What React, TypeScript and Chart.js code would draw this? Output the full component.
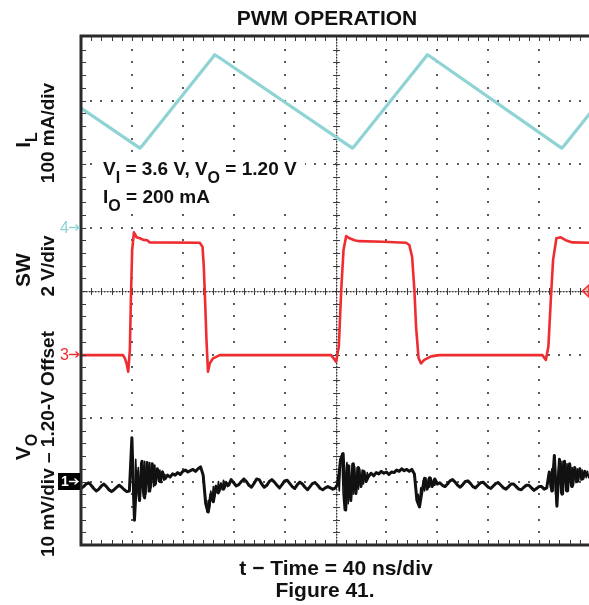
import React, { useEffect, useRef } from "react";
import { Chart, registerables } from "chart.js";

Chart.register(...registerables);

// ---------- scope settings ----------
const TIME_PER_DIV_NS = 40;
const X_DIVS = 10;
const Y_DIVS = 8;

const IL_MA_PER_DIV = 100;
const IL_REF_DIV = 5; // channel 4 ground marker
const SW_V_PER_DIV = 2;
const SW_REF_DIV = 3; // channel 3 ground marker
const VO_MV_PER_DIV = 10;
const VO_REF_DIV = 1; // channel 1 ground marker

// ---------- inductor current I_L (mA) ----------
const IL_T_NS = [0, 44.8, 46.3, 47.8, 103.6, 105.1, 106.8, 211.8, 213.3, 214.8, 270.7, 272.2, 273.9, 376.3, 377.8, 379.3, 400];
const IL_MA = [188, 127, 125, 128, 268, 272, 270, 127, 125, 128, 268, 272, 270, 127, 125, 128, 180];

// ---------- switch node SW (V) ----------
const SW_T_NS = [
  0, 33.0, 34.5, 35.8, 37.1, 38.4, 39.2, 40.2, 41.6, 43.7, 46.3, 48.9, 52.0, 54.1, 93.3, 95.5, 96.5, 97.5, 98.6, 99.8, 101.2, 103.8, 109.0,
  196.6, 200.5, 202.6, 204.5, 206.3, 208.4, 211.0, 214.9, 218.8, 237.1, 255.5, 258.0, 260.2, 262.0, 263.3, 265.3, 267.2, 269.8, 275.1, 281.6,
  362.6, 365.3, 367.3, 369.2, 371.0, 373.6, 377.0, 380.9, 386.1, 400,
];
const SW_V = [
  -0.02, -0.02, -0.12, -0.28, -0.54, 0.14, 1.72, 3.29, 3.85, 3.69, 3.66, 3.61, 3.6, 3.53, 3.52, 3.39, 2.77, 1.72, 0.46, -0.54, -0.28, -0.12, -0.02,
  -0.02, -0.23, 0.25, 2.03, 3.29, 3.73, 3.66, 3.6, 3.57, 3.55, 3.52, 3.45, 3.08, 2.03, 0.88, -0.12, -0.28, -0.17, -0.06, -0.02,
  -0.02, -0.17, 0.25, 1.72, 2.98, 3.66, 3.69, 3.6, 3.53, 3.52,
];

// ---------- output voltage V_O - 1.20 V (mV), sampled every 2 ns ----------
const VO_STEP_NS = 2;
const VO_MV = [
  -1.1, -0.8, -0.4, -0.2, -0.6, -1.1, -1.5, -1.2, -0.7, -0.4, // 0-18
  -0.8, -1.3, -1.6, -1.3, -0.9, -0.6, -0.9, -1.3, -1.6, -1.5, // 20-38
  6.9, -6.1, 1.5, -3.0, 3.2, -2.6, 3.0, -1.5, 2.8, -0.5, // 40-58
  2.0, 0.0, 1.5, 0.4, 1.0, 0.7, 1.2, 1.0, 1.4, 1.1, // 60-78
  1.6, 1.8, 1.5, 1.7, 1.9, 1.6, 2.0, 2.3, 1.0, -3.5, // 80-98
  -4.8, -2.0, -3.2, -0.8, -1.8, -0.5, -1.2, -0.2, -0.6, 0.3, // 100-118
  -0.2, -0.7, -0.5, 0.0, 0.4, 0.0, -0.6, -0.9, -0.3, 0.4, // 120-138
  0.3, -0.4, -0.9, -0.6, 0.0, 0.3, -0.1, -0.6, -1.0, -0.5, // 140-158
  0.1, 0.2, -0.3, -0.8, -1.1, -0.5, -0.1, -0.4, -0.9, -1.3, // 160-178
  -0.8, -0.3, -0.2, -0.6, -1.1, -1.3, -1.0, -0.8, -1.0, -1.2, // 180-198
  -1.0, -0.3, 3.5, 4.4, -4.5, 2.5, -3.0, 2.8, -1.9, 2.2, // 200-218
  -0.8, 1.6, 0.0, 0.8, 1.3, 0.9, 1.4, 1.2, 1.6, 1.3, // 220-238
  1.5, 1.1, 1.5, 1.4, 1.8, 1.6, 2.0, 1.7, 1.9, 1.6, // 240-258
  1.9, 1.2, -3.0, -4.0, -1.5, 0.5, -1.2, 0.6, -0.8, 0.4, // 260-278
  -0.4, -0.2, -0.6, -0.8, -0.4, 0.1, 0.3, -0.1, -0.6, -0.9, // 280-298
  -0.5, 0.0, 0.1, -0.3, -0.8, -1.0, -0.6, -0.2, -0.1, -0.5, // 300-318
  -0.9, -1.1, -0.7, -0.3, -0.2, -0.6, -1.0, -1.2, -0.8, -0.4, // 320-338
  -0.4, -0.8, -1.2, -1.3, -0.9, -0.6, -0.6, -1.0, -1.4, -1.1, // 340-358
  -0.8, -0.8, -1.2, -1.0, 1.5, -1.5, 4.1, -3.9, 3.5, -2.0, // 360-378
  3.2, -1.5, 2.8, -0.8, 2.2, 0.0, 2.0, 0.4, 1.6, 0.8, // 380-398
];

// ---------- V_O switching bursts, sampled every 1 ns ----------
const VO_BURST_STEP_NS = 1;
const VO_BURST_START_NS = [38, 96, 200, 262, 366];
const VO_BURST_MV = [
  [-1.5, 1.0, 6.9, -2.0, -6.1, 3.5, -1.0, 2.2, -3.0, 3.0, -0.5, -2.4, 3.2, -2.0, 2.6, -1.6, 3.0, -1.0, 2.4, -0.8, 2.6, -0.4, 2.0, 0.0, 1.8, -0.2, 1.6, 0.2, 1.2],
  [1.0, -1.0, -3.5, -4.8, -3.0, -4.2, -1.5, -3.0, -0.8, -2.4, -0.6, -1.8, 0.0, -1.5, -0.2, -1.3, 0.2, -1.0, 0.0, -0.8, -0.4],
  [-1.0, -0.6, 1.0, -1.5, 3.5, 4.4, -2.0, -4.5, 1.0, 3.0, -3.5, 2.5, -2.8, 2.8, -2.0, 2.4, -1.9, 2.2, -1.2, 2.0, -0.8, 1.8, -0.4, 1.6, 0.0, 1.4, 0.6],
  [1.2, -1.0, -3.0, -2.0, -4.0, -1.0, -2.0, 0.2, -1.5, 0.6, -1.2, 0.5, -0.9, 0.6, -0.8, 0.3, -0.6, 0.2, -0.4],
  [-1.0, 0.2, 1.5, -1.0, 2.0, -1.5, 4.1, -2.0, -3.9, 1.5, 3.5, -1.8, 3.2, -2.0, 3.2, -1.5, 2.8, -1.5, 2.8, -0.8, 2.2, -0.6, 2.2, -0.2, 2.0, 0.0, 2.0, 0.2, 1.8, 0.4, 1.6, 0.6, 1.6, 0.6, 1.2],
];

// ---------- texts ----------
const TITLE = "PWM OPERATION";
const X_TITLE = "t \u2212 Time = 40 ns/div";
const CAPTION = "Figure 41.";

const IL_COLOR = "#8fd3d5";
const SW_COLOR = "#ee2d31";
const VO_COLOR = "#111111";

const FONT = '"Liberation Sans", Arial, Helvetica, sans-serif';

type Part = { t: string; sub?: boolean };

function richWidth(ctx: CanvasRenderingContext2D, parts: Part[], size: number, subSize: number) {
  let w = 0;
  for (const p of parts) {
    ctx.font = `bold ${p.sub ? subSize : size}px ${FONT}`;
    w += ctx.measureText(p.t).width;
  }
  return w;
}

function drawRich(
  ctx: CanvasRenderingContext2D,
  parts: Part[],
  x: number,
  y: number,
  size: number,
  subSize: number,
  subDrop: number,
  align: "left" | "center"
) {
  const w = richWidth(ctx, parts, size, subSize);
  let cx = align === "center" ? x - w / 2 : x;
  ctx.textAlign = "left";
  ctx.textBaseline = "alphabetic";
  for (const p of parts) {
    ctx.font = `bold ${p.sub ? subSize : size}px ${FONT}`;
    ctx.fillText(p.t, cx, p.sub ? y + subDrop : y);
    cx += ctx.measureText(p.t).width;
  }
}

function drawRotated(ctx: CanvasRenderingContext2D, parts: Part[], x: number, y: number, size: number) {
  ctx.save();
  ctx.translate(x, y);
  ctx.rotate(-Math.PI / 2);
  drawRich(ctx, parts, 0, 0, size, Math.round(size * 0.76), 7, "center");
  ctx.restore();
}

function drawArrow(ctx: CanvasRenderingContext2D, x0: number, x1: number, y: number, color: string) {
  ctx.strokeStyle = color;
  ctx.lineWidth = 1.3;
  ctx.beginPath();
  ctx.moveTo(x0, y);
  ctx.lineTo(x1, y);
  ctx.moveTo(x1 - 3.5, y - 3);
  ctx.lineTo(x1, y);
  ctx.lineTo(x1 - 3.5, y + 3);
  ctx.stroke();
}

const scopePlugin = {
  id: "scopeGraticule",
  beforeDatasetsDraw(chart: any) {
    const { ctx, chartArea: a, scales } = chart;
    const xs = scales.x;
    const yv = scales.yVO;
    const xAt = (d: number) => xs.getPixelForValue(d * TIME_PER_DIV_NS);
    const yAt = (d: number) => yv.getPixelForValue((d - VO_REF_DIV) * VO_MV_PER_DIV);
    ctx.save();
    // dotted graticule
    ctx.fillStyle = "#5a5a5a";
    for (let k = 1; k < X_DIVS; k++) {
      if (k === X_DIVS / 2) continue;
      const x = Math.round(xAt(k));
      for (let j = 1; j < Y_DIVS * 5; j++) {
        const y = Math.round(yAt(j / 5));
        ctx.fillRect(x - 1, y - 1, 2, 2);
      }
    }
    for (let k = 1; k < Y_DIVS; k++) {
      if (k === Y_DIVS / 2) continue;
      const y = Math.round(yAt(k));
      for (let j = 1; j < X_DIVS * 5; j++) {
        const x = Math.round(xAt(j / 5));
        ctx.fillRect(x - 1, y - 1, 2, 2);
      }
    }
    // center crosshair
    const cx = Math.round(xAt(X_DIVS / 2));
    const cy = Math.round(yAt(Y_DIVS / 2));
    ctx.strokeStyle = "#b0b0b0";
    ctx.lineWidth = 1;
    ctx.beginPath();
    ctx.moveTo(a.left, cy + 0.5);
    ctx.lineTo(a.right, cy + 0.5);
    ctx.moveTo(cx + 0.5, a.top);
    ctx.lineTo(cx + 0.5, a.bottom);
    ctx.stroke();
    ctx.fillStyle = "#3a3a3a";
    for (let x = a.left + 2; x < a.right; x += 3) ctx.fillRect(x, cy, 1.4, 1.4);
    for (let y = a.top + 2; y < a.bottom; y += 3) ctx.fillRect(cx, y, 1.4, 1.4);
    ctx.strokeStyle = "#3a3a3a";
    ctx.beginPath();
    for (let j = 1; j < X_DIVS * 5; j++) {
      const x = Math.round(xAt(j / 5)) + 0.5;
      ctx.moveTo(x, cy - 3);
      ctx.lineTo(x, cy + 4);
    }
    for (let j = 1; j < Y_DIVS * 5; j++) {
      const y = Math.round(yAt(j / 5)) + 0.5;
      ctx.moveTo(cx - 3, y);
      ctx.lineTo(cx + 4, y);
    }
    ctx.stroke();
    ctx.restore();
  },
  afterDatasetsDraw(chart: any) {
    const { ctx, chartArea: a, scales, width } = chart;
    const xs = scales.x;
    const yv = scales.yVO;
    const xAt = (d: number) => xs.getPixelForValue(d * TIME_PER_DIV_NS);
    const yAt = (d: number) => yv.getPixelForValue((d - VO_REF_DIV) * VO_MV_PER_DIV);
    ctx.save();
    // frame
    ctx.strokeStyle = "#2a2a2a";
    ctx.lineWidth = 3;
    ctx.beginPath();
    ctx.moveTo(width, a.top - 1);
    ctx.lineTo(a.left, a.top - 1);
    ctx.lineTo(a.left, a.bottom);
    ctx.lineTo(width, a.bottom);
    ctx.stroke();
    // border ticks
    ctx.strokeStyle = "#3a3a3a";
    ctx.lineWidth = 1;
    ctx.beginPath();
    for (let j = 1; j < X_DIVS * 5; j++) {
      const x = Math.round(xAt(j / 5)) + 0.5;
      ctx.moveTo(x, a.top);
      ctx.lineTo(x, a.top + 4);
      ctx.moveTo(x, a.bottom - 5);
      ctx.lineTo(x, a.bottom - 1);
    }
    for (let j = 1; j < Y_DIVS * 5; j++) {
      const y = Math.round(yAt(j / 5)) + 0.5;
      ctx.moveTo(a.left + 1, y);
      ctx.lineTo(a.left + 5, y);
    }
    ctx.stroke();

    // channel ground markers
    const y4 = scales.yIL.getPixelForValue(0);
    const y3 = scales.ySW.getPixelForValue(0);
    const y1 = scales.yVO.getPixelForValue(0);
    ctx.font = `16px ${FONT}`;
    ctx.textAlign = "right";
    ctx.textBaseline = "middle";
    ctx.fillStyle = IL_COLOR;
    ctx.fillText("4", 69, y4 + 1);
    drawArrow(ctx, 69, 79, y4, IL_COLOR);
    ctx.fillStyle = SW_COLOR;
    ctx.fillText("3", 69, y3 + 1);
    drawArrow(ctx, 69, 79, y3, SW_COLOR);
    ctx.fillStyle = "#000";
    ctx.fillRect(58, y1 - 8.5, 22, 17);
    ctx.fillStyle = "#fff";
    ctx.font = `bold 14px ${FONT}`;
    ctx.textAlign = "left";
    ctx.fillText("1", 61, y1 + 1);
    drawArrow(ctx, 69, 78, y1, "#fff");

    // trigger level marker (right edge)
    const yt = yAt(Y_DIVS / 2);
    ctx.strokeStyle = SW_COLOR;
    ctx.fillStyle = "rgba(238,45,49,0.35)";
    ctx.lineWidth = 1.5;
    ctx.beginPath();
    ctx.moveTo(589, yt - 6);
    ctx.lineTo(582.5, yt);
    ctx.lineTo(589, yt + 6);
    ctx.closePath();
    ctx.fill();
    ctx.stroke();

    // conditions box
    ctx.fillStyle = "#fff";
    ctx.fillRect(97, 156, 208, 55);
    ctx.fillStyle = "#111";
    drawRich(ctx, [{ t: "V" }, { t: "I", sub: true }, { t: " = 3.6 V, V" }, { t: "O", sub: true }, { t: " = 1.20 V" }], 103, 175, 19, 16, 8, "left");
    drawRich(ctx, [{ t: "I" }, { t: "O", sub: true }, { t: " = 200 mA" }], 103, 203, 19, 16, 8, "left");

    // titles
    drawRich(ctx, [{ t: TITLE }], 327, 24.5, 21, 16, 0, "center");
    drawRich(ctx, [{ t: X_TITLE }], 336, 575, 21, 16, 0, "center");
    drawRich(ctx, [{ t: CAPTION }], 325, 597, 21, 16, 0, "center");

    // channel labels (rotated)
    drawRotated(ctx, [{ t: "I" }, { t: "L", sub: true }], 29.5, 140, 21);
    drawRotated(ctx, [{ t: "100 mA/div" }], 54, 133, 19);
    drawRotated(ctx, [{ t: "SW" }], 29.5, 270, 21);
    drawRotated(ctx, [{ t: "2 V/div" }], 54, 266, 19);
    drawRotated(ctx, [{ t: "V" }, { t: "O", sub: true }], 29.5, 447, 21);
    drawRotated(ctx, [{ t: "10 mV/div \u2013 1.20-V Offset" }], 54, 444, 19);
    ctx.restore();
  },
};

export default function App() {
  const ref = useRef<HTMLCanvasElement | null>(null);
  useEffect(() => {
    const canvas = ref.current;
    if (!canvas) return;
    const burstData: { x: number; y: number | null }[] = [];
    VO_BURST_MV.forEach((vals, b) => {
      vals.forEach((v, i) => burstData.push({ x: VO_BURST_START_NS[b] + i * VO_BURST_STEP_NS, y: v }));
      burstData.push({ x: VO_BURST_START_NS[b] + vals.length * VO_BURST_STEP_NS, y: null });
    });
    const chart = new Chart(canvas, {
      type: "scatter",
      data: {
        datasets: [
          {
            label: "IL",
            data: IL_T_NS.map((t, i) => ({ x: t, y: IL_MA[i] })),
            yAxisID: "yIL",
            showLine: true,
            borderColor: IL_COLOR,
            borderWidth: 3.2,
            pointRadius: 0,
            borderJoinStyle: "round",
          },
          {
            label: "SW",
            data: SW_T_NS.map((t, i) => ({ x: t, y: SW_V[i] })),
            yAxisID: "ySW",
            showLine: true,
            borderColor: SW_COLOR,
            borderWidth: 2.6,
            pointRadius: 0,
            borderJoinStyle: "round",
          },
          {
            label: "VO",
            data: VO_MV.map((v, i) => ({ x: i * VO_STEP_NS, y: v })),
            yAxisID: "yVO",
            showLine: true,
            borderColor: VO_COLOR,
            borderWidth: 3,
            pointRadius: 0,
            borderJoinStyle: "round",
          },
          {
            label: "VO bursts",
            data: burstData,
            yAxisID: "yVO",
            showLine: true,
            spanGaps: false,
            borderColor: VO_COLOR,
            borderWidth: 1.6,
            pointRadius: 0,
            borderJoinStyle: "round",
          },
        ],
      },
      options: {
        responsive: false,
        animation: false,
        devicePixelRatio: 1,
        events: [],
        layout: { padding: { left: 81, right: 10, top: 37, bottom: 60 } },
        plugins: {
          legend: { display: false },
          tooltip: { enabled: false },
          title: { display: false },
        },
        scales: {
          x: { type: "linear", min: 0, max: X_DIVS * TIME_PER_DIV_NS, display: false },
          yIL: {
            type: "linear",
            min: -IL_REF_DIV * IL_MA_PER_DIV,
            max: (Y_DIVS - IL_REF_DIV) * IL_MA_PER_DIV,
            display: false,
          },
          ySW: {
            type: "linear",
            min: -SW_REF_DIV * SW_V_PER_DIV,
            max: (Y_DIVS - SW_REF_DIV) * SW_V_PER_DIV,
            display: false,
          },
          yVO: {
            type: "linear",
            min: -VO_REF_DIV * VO_MV_PER_DIV,
            max: (Y_DIVS - VO_REF_DIV) * VO_MV_PER_DIV,
            display: false,
          },
        },
      },
      plugins: [scopePlugin],
    } as any);
    return () => chart.destroy();
  }, []);

  return (
    <div
      style={{
        position: "fixed",
        left: 0,
        top: 0,
        width: 589,
        height: 605,
        overflow: "hidden",
        background: "#fff",
      }}
    >
      <canvas ref={ref} width={600} height={605} style={{ display: "block", width: 600, height: 605 }} />
    </div>
  );
}
